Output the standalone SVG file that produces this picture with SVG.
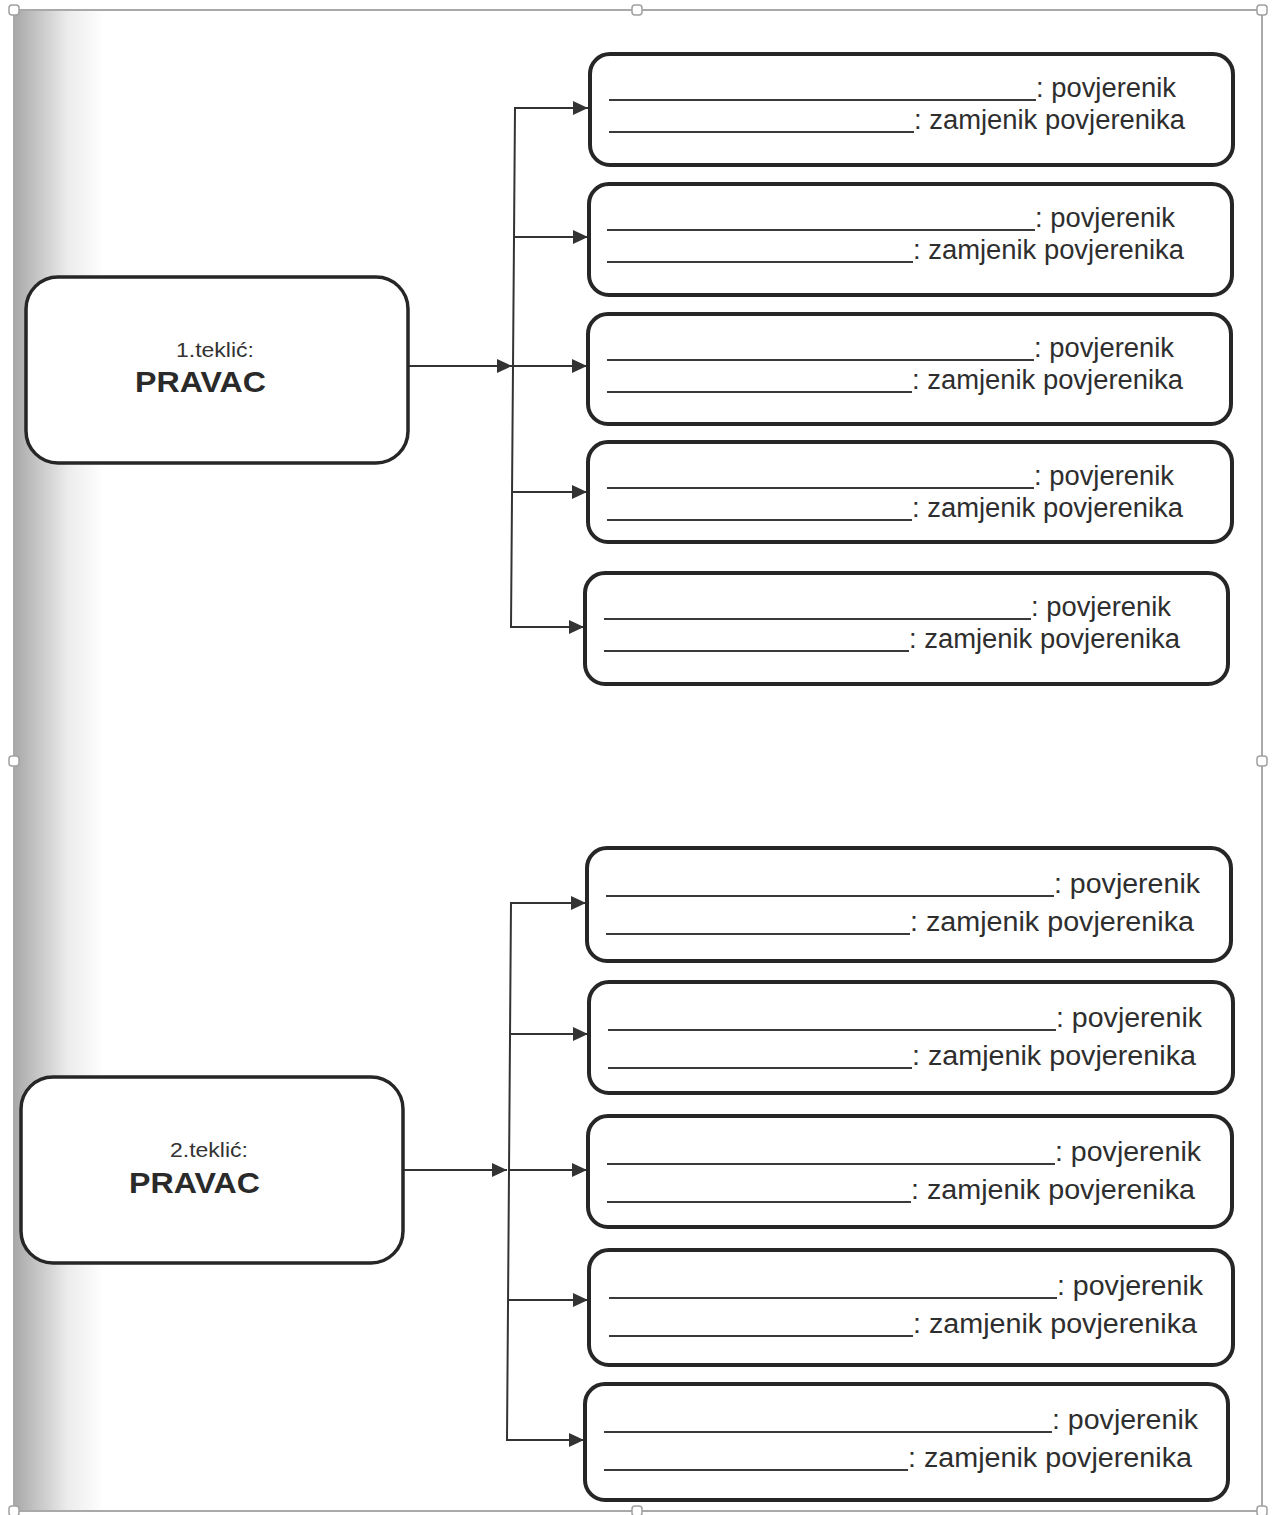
<svg xmlns="http://www.w3.org/2000/svg" width="1274" height="1515" viewBox="0 0 1274 1515">
<defs>
<linearGradient id="shade" x1="0" y1="0" x2="1" y2="0">
<stop offset="0" stop-color="#a8a8a8"/>
<stop offset="0.25" stop-color="#c4c4c4"/>
<stop offset="0.6" stop-color="#ececec"/>
<stop offset="1" stop-color="#ffffff"/>
</linearGradient>
<marker id="arr" markerWidth="16" markerHeight="16" refX="15" refY="8" orient="auto" markerUnits="userSpaceOnUse">
<path d="M0,1 L15,8 L0,15 Z" fill="#333"/>
</marker>
<style>
.box{fill:#fff;stroke:#262626;stroke-width:4}
.lbox{fill:#fff;stroke:#262626;stroke-width:3.5}
.ul{stroke:#3a3a3a;stroke-width:2}
.t{font-family:"Liberation Sans",Arial,sans-serif;font-size:27px;fill:#2e2e2e}
.sm{font-family:"Liberation Sans",Arial,sans-serif;font-size:20px;fill:#333}
.big{font-family:"Liberation Sans",Arial,sans-serif;font-size:30px;font-weight:bold;fill:#2a2a2a}
.con{fill:none;stroke:#333;stroke-width:2}
.frame{fill:none;stroke:#a9a9a9;stroke-width:2}
.hd{fill:#fff;stroke:#a0a0a0;stroke-width:1.5}
</style>
</defs>
<rect width="1274" height="1515" fill="#fff"/>
<rect x="14" y="10" width="90" height="1501" fill="url(#shade)"/>
<rect class="frame" x="14" y="10" width="1248" height="1501"/>
<g id="handles">
<rect class="hd" x="9" y="5" width="10" height="10" rx="3"/>
<rect class="hd" x="632" y="5" width="10" height="10" rx="3"/>
<rect class="hd" x="1257" y="5" width="10" height="10" rx="3"/>
<rect class="hd" x="9" y="756" width="10" height="10" rx="3"/>
<rect class="hd" x="1257" y="756" width="10" height="10" rx="3"/>
<rect class="hd" x="9" y="1506" width="10" height="10" rx="3"/>
<rect class="hd" x="632" y="1506" width="10" height="10" rx="3"/>
<rect class="hd" x="1257" y="1506" width="10" height="10" rx="3"/>
</g>
<g id="connectors">
<line class="con" x1="408" y1="366" x2="512" y2="366" marker-end="url(#arr)"/>
<path class="con" d="M575,108 L515,108 L511,627 L575,627"/>
<line class="con" x1="515" y1="108" x2="588" y2="108" marker-end="url(#arr)"/>
<line class="con" x1="514" y1="237" x2="588" y2="237" marker-end="url(#arr)"/>
<line class="con" x1="513" y1="366" x2="587" y2="366" marker-end="url(#arr)"/>
<line class="con" x1="512" y1="492" x2="587" y2="492" marker-end="url(#arr)"/>
<line class="con" x1="511" y1="627" x2="584" y2="627" marker-end="url(#arr)"/>
<line class="con" x1="403" y1="1170" x2="507" y2="1170" marker-end="url(#arr)"/>
<path class="con" d="M575,903 L511,903 L507,1440 L575,1440"/>
<line class="con" x1="511" y1="903" x2="586" y2="903" marker-end="url(#arr)"/>
<line class="con" x1="510" y1="1034" x2="588" y2="1034" marker-end="url(#arr)"/>
<line class="con" x1="509" y1="1170" x2="587" y2="1170" marker-end="url(#arr)"/>
<line class="con" x1="508" y1="1300" x2="588" y2="1300" marker-end="url(#arr)"/>
<line class="con" x1="507" y1="1440" x2="584" y2="1440" marker-end="url(#arr)"/>
</g>
<g id="teklic1">
<rect class="lbox" x="26" y="277" width="382" height="186" rx="32"/>
<text class="sm" x="176" y="357" textLength="78" lengthAdjust="spacingAndGlyphs">1.teklić:</text>
<text class="big" x="135" y="392" textLength="131" lengthAdjust="spacingAndGlyphs">PRAVAC</text>
</g>
<g id="teklic2">
<rect class="lbox" x="21" y="1077" width="382" height="186" rx="32"/>
<text class="sm" x="170" y="1157" textLength="78" lengthAdjust="spacingAndGlyphs">2.teklić:</text>
<text class="big" x="129" y="1193" textLength="131" lengthAdjust="spacingAndGlyphs">PRAVAC</text>
</g>
<g id="b1">
<rect class="box" x="590" y="54" width="643" height="111" rx="20"/>
<line class="ul" x1="609" y1="100" x2="1036" y2="100"/>
<text class="t" x="1036" y="97" textLength="140" lengthAdjust="spacingAndGlyphs">: povjerenik</text>
<line class="ul" x1="609" y1="132" x2="914" y2="132"/>
<text class="t" x="914" y="129" textLength="271" lengthAdjust="spacingAndGlyphs">: zamjenik povjerenika</text>
</g>
<g id="b2">
<rect class="box" x="589" y="184" width="643" height="111" rx="20"/>
<line class="ul" x1="607" y1="230" x2="1035" y2="230"/>
<text class="t" x="1035" y="227" textLength="140" lengthAdjust="spacingAndGlyphs">: povjerenik</text>
<line class="ul" x1="607" y1="262" x2="913" y2="262"/>
<text class="t" x="913" y="259" textLength="271" lengthAdjust="spacingAndGlyphs">: zamjenik povjerenika</text>
</g>
<g id="b3">
<rect class="box" x="588" y="314" width="643" height="110" rx="20"/>
<line class="ul" x1="607" y1="360" x2="1034" y2="360"/>
<text class="t" x="1034" y="357" textLength="140" lengthAdjust="spacingAndGlyphs">: povjerenik</text>
<line class="ul" x1="607" y1="392" x2="912" y2="392"/>
<text class="t" x="912" y="389" textLength="271" lengthAdjust="spacingAndGlyphs">: zamjenik povjerenika</text>
</g>
<g id="b4">
<rect class="box" x="588" y="442" width="644" height="100" rx="20"/>
<line class="ul" x1="607" y1="488" x2="1034" y2="488"/>
<text class="t" x="1034" y="485" textLength="140" lengthAdjust="spacingAndGlyphs">: povjerenik</text>
<line class="ul" x1="607" y1="520" x2="912" y2="520"/>
<text class="t" x="912" y="517" textLength="271" lengthAdjust="spacingAndGlyphs">: zamjenik povjerenika</text>
</g>
<g id="b5">
<rect class="box" x="585" y="573" width="643" height="111" rx="20"/>
<line class="ul" x1="604" y1="619" x2="1031" y2="619"/>
<text class="t" x="1031" y="616" textLength="140" lengthAdjust="spacingAndGlyphs">: povjerenik</text>
<line class="ul" x1="604" y1="651" x2="909" y2="651"/>
<text class="t" x="909" y="648" textLength="271" lengthAdjust="spacingAndGlyphs">: zamjenik povjerenika</text>
</g>
<g id="b6">
<rect class="box" x="587" y="848" width="644" height="113" rx="20"/>
<line class="ul" x1="606" y1="896" x2="1054" y2="896"/>
<text class="t" x="1054" y="893" textLength="146" lengthAdjust="spacingAndGlyphs">: povjerenik</text>
<line class="ul" x1="606" y1="934" x2="910" y2="934"/>
<text class="t" x="910" y="931" textLength="284" lengthAdjust="spacingAndGlyphs">: zamjenik povjerenika</text>
</g>
<g id="b7">
<rect class="box" x="589" y="982" width="644" height="111" rx="20"/>
<line class="ul" x1="608" y1="1030" x2="1056" y2="1030"/>
<text class="t" x="1056" y="1027" textLength="146" lengthAdjust="spacingAndGlyphs">: povjerenik</text>
<line class="ul" x1="608" y1="1068" x2="912" y2="1068"/>
<text class="t" x="912" y="1065" textLength="284" lengthAdjust="spacingAndGlyphs">: zamjenik povjerenika</text>
</g>
<g id="b8">
<rect class="box" x="588" y="1116" width="644" height="111" rx="20"/>
<line class="ul" x1="607" y1="1164" x2="1055" y2="1164"/>
<text class="t" x="1055" y="1161" textLength="146" lengthAdjust="spacingAndGlyphs">: povjerenik</text>
<line class="ul" x1="607" y1="1202" x2="911" y2="1202"/>
<text class="t" x="911" y="1199" textLength="284" lengthAdjust="spacingAndGlyphs">: zamjenik povjerenika</text>
</g>
<g id="b9">
<rect class="box" x="589" y="1250" width="644" height="115" rx="20"/>
<line class="ul" x1="609" y1="1298" x2="1057" y2="1298"/>
<text class="t" x="1057" y="1295" textLength="146" lengthAdjust="spacingAndGlyphs">: povjerenik</text>
<line class="ul" x1="609" y1="1336" x2="913" y2="1336"/>
<text class="t" x="913" y="1333" textLength="284" lengthAdjust="spacingAndGlyphs">: zamjenik povjerenika</text>
</g>
<g id="b10">
<rect class="box" x="585" y="1384" width="643" height="116" rx="20"/>
<line class="ul" x1="604" y1="1432" x2="1052" y2="1432"/>
<text class="t" x="1052" y="1429" textLength="146" lengthAdjust="spacingAndGlyphs">: povjerenik</text>
<line class="ul" x1="604" y1="1470" x2="908" y2="1470"/>
<text class="t" x="908" y="1467" textLength="284" lengthAdjust="spacingAndGlyphs">: zamjenik povjerenika</text>
</g>
</svg>
